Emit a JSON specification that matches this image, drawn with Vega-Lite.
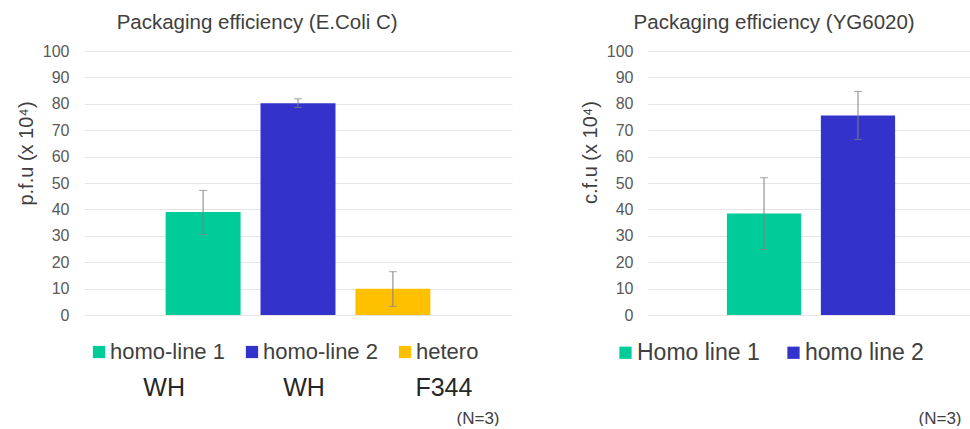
{
  "$schema": "https://vega.github.io/schema/vega-lite/v6.json",
  "background": "white",
  "padding": {"left": 16, "top": 12, "right": 0, "bottom": 0},
  "config": {
    "font": "Liberation Sans",
    "view": {"stroke": null},
    "title": {"fontSize": 20.5, "fontWeight": "normal", "color": "#404040", "anchor": "middle", "frame": "bounds", "offset": 10},
    "axisY": {"gridColor": "#e6e6e6", "domain": false, "tickColor": "transparent", "tickSize": 0, "labelFontSize": 16, "labelColor": "#595959", "labelPadding": 15, "titleFontSize": 20, "titleColor": "#404040", "titleFontWeight": "normal", "titlePadding": 6},
    "axisX": {"labels": false, "ticks": false, "domain": false, "grid": false, "titleFontSize": 17, "titleFontWeight": "normal", "titleColor": "#404040", "titleAlign": "right", "titlePadding": 95}
  },
  "datasets": {
    "ecoli": [
      {"series": "homo-line 1", "strain": "WH", "value": 39.0, "lo": 30.5, "hi": 47.2},
      {"series": "homo-line 2", "strain": "WH", "value": 80.2, "lo": 78.6, "hi": 81.9},
      {"series": "hetero", "strain": "F344", "value": 9.9, "lo": 3.3, "hi": 16.4}
    ],
    "yg": [
      {"series": "Homo line 1", "value": 38.4, "lo": 24.8, "hi": 52.0},
      {"series": "homo line 2", "value": 75.6, "lo": 66.5, "hi": 84.7}
    ]
  },
  "hconcat": [
    {
      "width": 428,
      "height": 264,
      "title": {"text": "Packaging  efficiency (E.Coli C)", "dx": -7},
      "data": {"name": "ecoli"},
      "layer": [
        {
          "layer": [
            {
              "mark": {"type": "bar", "width": {"band": 1}},
              "encoding": {
                "x": {"field": "series", "type": "nominal", "scale": {"domain": ["homo-line 1", "homo-line 2", "hetero"], "paddingInner": 0.21, "paddingOuter": 0.86}, "axis": {"title": "(N=3)", "titleX": 415}},
                "y": {"field": "value", "type": "quantitative", "scale": {"domain": [0, 100]}, "axis": {"title": "p.f.u (x 10⁴)", "titleY": 102, "grid": true, "labelOverlap": false, "tickCount": 11, "values": [0, 10, 20, 30, 40, 50, 60, 70, 80, 90, 100]}},
                "color": {"field": "series", "type": "nominal", "scale": {"domain": ["homo-line 1", "homo-line 2", "hetero"], "range": ["#00CC99", "#3333CC", "#FFC000"]},
                  "legend": {"orient": "none", "legendX": 4, "legendY": 290, "direction": "horizontal", "title": null, "symbolType": "square", "symbolSize": 150, "symbolStrokeWidth": 0, "labelFontSize": 22, "labelColor": "#404040", "columnPadding": 16, "labelOffset": 0, "padding": 0}}
              }
            },
            {
              "mark": {"type": "rule", "color": "#808080", "strokeWidth": 1},
              "encoding": {"x": {"field": "series", "type": "nominal"}, "y": {"field": "lo", "type": "quantitative"}, "y2": {"field": "hi"}}
            },
            {
              "mark": {"type": "tick", "orient": "horizontal", "size": 8, "thickness": 1, "color": "#808080"},
              "encoding": {"x": {"field": "series", "type": "nominal"}, "y": {"field": "lo", "type": "quantitative"}}
            },
            {
              "mark": {"type": "tick", "orient": "horizontal", "size": 8, "thickness": 1, "color": "#808080"},
              "encoding": {"x": {"field": "series", "type": "nominal"}, "y": {"field": "hi", "type": "quantitative"}}
            }
          ]
        },
        {
          "mark": {"type": "text", "fontSize": 25, "color": "#262626", "dx": 6, "baseline": "middle"},
          "encoding": {
            "x": {"field": "series", "type": "nominal", "scale": {"type": "point", "domain": ["homo-line 1", "homo-line 2", "hetero"], "padding": 0.53}, "axis": null},
            "y": {"datum": -27.5, "type": "quantitative"},
            "text": {"field": "strain"}
          }
        }
      ],
      "resolve": {"scale": {"x": "independent"}}
    },
    {
      "width": 326,
      "height": 264,
      "title": {"text": "Packaging  efficiency (YG6020)", "dx": -3},
      "data": {"name": "yg"},
      "layer": [
        {
          "mark": {"type": "bar", "width": {"band": 1}},
          "encoding": {
            "x": {"field": "series", "type": "nominal", "scale": {"domain": ["Homo line 1", "homo line 2"], "paddingInner": 0.21, "paddingOuter": 0.84}, "axis": {"title": "(N=3)", "titleX": 313}},
            "y": {"field": "value", "type": "quantitative", "scale": {"domain": [0, 100]}, "axis": {"title": "c.f.u (x 10⁴)", "titleY": 101, "grid": true, "labelOverlap": false, "tickCount": 11, "values": [0, 10, 20, 30, 40, 50, 60, 70, 80, 90, 100]}},
            "color": {"field": "series", "type": "nominal", "scale": {"domain": ["Homo line 1", "homo line 2"], "range": ["#00CC99", "#3333CC"]},
              "legend": {"orient": "none", "legendX": -34, "legendY": 290, "direction": "horizontal", "title": null, "symbolType": "square", "symbolSize": 150, "symbolStrokeWidth": 0, "labelFontSize": 23, "labelColor": "#404040", "columnPadding": 22, "labelOffset": 0, "padding": 0}}
          }
        },
        {
          "mark": {"type": "rule", "color": "#808080", "strokeWidth": 1},
          "encoding": {"x": {"field": "series", "type": "nominal"}, "y": {"field": "lo", "type": "quantitative"}, "y2": {"field": "hi"}}
        },
        {
          "mark": {"type": "tick", "orient": "horizontal", "size": 8, "thickness": 1, "color": "#808080"},
          "encoding": {"x": {"field": "series", "type": "nominal"}, "y": {"field": "lo", "type": "quantitative"}}
        },
        {
          "mark": {"type": "tick", "orient": "horizontal", "size": 8, "thickness": 1, "color": "#808080"},
          "encoding": {"x": {"field": "series", "type": "nominal"}, "y": {"field": "hi", "type": "quantitative"}}
        }
      ]
    }
  ],
  "spacing": 68,
  "resolve": {"scale": {"color": "independent", "x": "independent", "y": "independent"}, "legend": {"color": "independent"}}
}
